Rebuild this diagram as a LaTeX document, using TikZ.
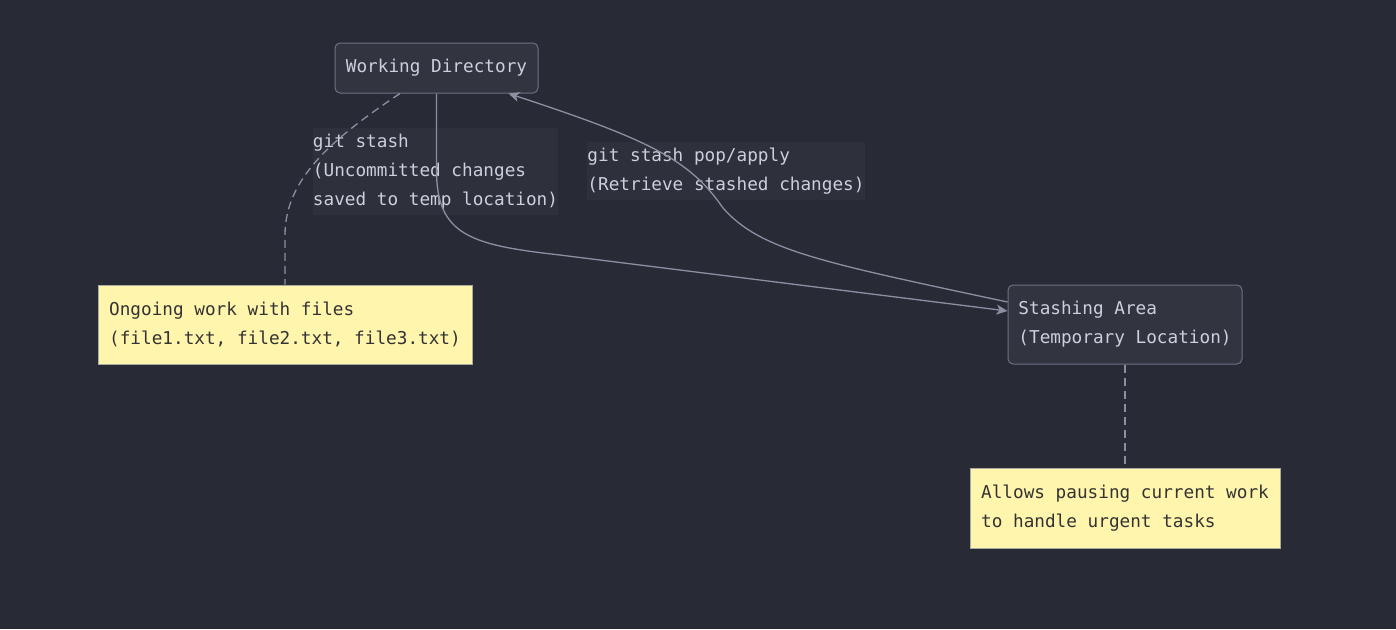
\documentclass[tikz,border=0pt]{standalone}
\usepackage{fontspec}
\setmonofont{DejaVu Sans Mono}
\usepackage{tikz}
\usepackage{xcolor}
\usetikzlibrary{shapes}
\usetikzlibrary{positioning}
\usetikzlibrary{arrows.meta}

\definecolor{bgdark}{RGB}{40,43,53}
\definecolor{boxfill}{RGB}{50,53,64}
\definecolor{boxline}{RGB}{108,112,132}
\definecolor{boxtext}{RGB}{204,207,220}
\definecolor{linkline}{RGB}{140,143,162}
\definecolor{labelbg}{RGB}{46,49,59}
\definecolor{notefill}{RGB}{255,245,173}
\definecolor{noteline}{RGB}{170,170,160}
\definecolor{notetext}{RGB}{51,51,51}

\begin{document}
\begin{tikzpicture}[x=1pt,y=-1pt,>={Stealth[length=11pt,width=10pt,inset=3pt]}]
        \tikzstyle{stage}=[draw=boxline,fill=boxfill,rounded corners=5pt,line width=1pt,text=boxtext,align=left,inner sep=0pt,font=\ttfamily\fontsize{17.7}{29}\selectfont]
        \tikzstyle{note}=[draw=noteline,fill=notefill,line width=1pt,text=notetext,align=left,inner sep=0pt,font=\ttfamily\fontsize{17.7}{29}\selectfont]
        \tikzstyle{tag}=[fill=labelbg,text=boxtext,align=left,inner sep=0pt,font=\ttfamily\fontsize{17.7}{29}\selectfont]
        \tikzstyle{link}=[draw=linkline,line width=1.3pt]
        \tikzstyle{dotlink}=[draw=linkline,line width=1.3pt,dash pattern=on 8pt off 5pt]
        \fill[bgdark] (0,0) rectangle (1396,629);
        \useasboundingbox (0,0) rectangle (1396,629);
       \begin{scope}
         \node [stage,minimum width=203pt,minimum height=50pt] (wd) at (436.5,68) {Working Directory};
         \node [stage,minimum width=234pt,minimum height=79pt] (sa) at (1125,324.5) {Stashing Area\\(Temporary Location)};
         \node [note,minimum width=374pt,minimum height=79pt] (n1) at (285,324.5) {Ongoing work with files\\(file1.txt, file2.txt, file3.txt)};
         \node [note,minimum width=310pt,minimum height=80pt] (n2) at (1125,508) {Allows pausing current work\\to handle urgent tasks};
         % edge labels sit under the edges
         \node [tag,minimum width=245pt,minimum height=87pt] (l1) at (435.5,171.5) {git stash\\(Uncommitted changes\\saved to temp location)};
         \node [tag,minimum width=278pt,minimum height=58pt] (l2) at (726,171) {git stash pop/apply\\(Retrieve stashed changes)};
         % edges between the two areas
         \path[link,->] (wd.south) -- (436.5,170) .. controls (436.5,235) and (470,245) .. (560,255) -- ([yshift=13.5pt]sa.west);
         \path[link,->] ([yshift=22.5pt]sa.west) .. controls (820,262) and (760,250) .. (723,208) .. controls (690,160) and (650,140) .. ([xshift=-30pt]wd.south east);
         % notes
         \path[dotlink] ([xshift=-36.5pt]wd.south) .. controls (330,140) and (285,180) .. (285,235) -- (n1.north);
         \path[dotlink] (sa.south) -- (n2.north);
        \end{scope}
      \end{tikzpicture}
\end{document}
